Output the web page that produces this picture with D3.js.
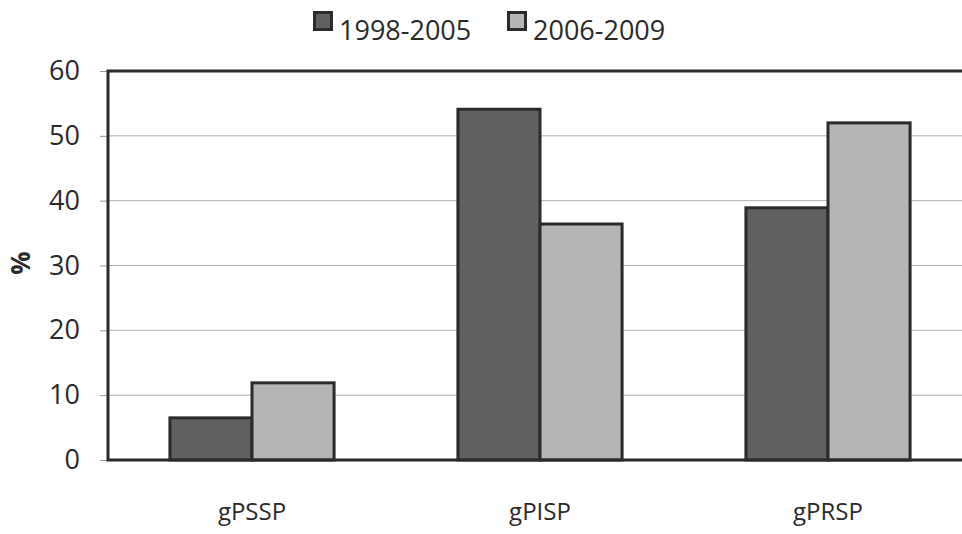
<!DOCTYPE html>
<html>
<head>
<meta charset="utf-8">
<script src="https://cdn.jsdelivr.net/npm/d3@7"></script>
<style>
  body { margin: 0; background: #fff; }
  svg { display: block; font-family: "Open Sans", sans-serif; }
</style>
</head>
<body>
<div id="chart"></div>
<script>
// chart data
var categories = ["gPSSP", "gPISP", "gPRSP"];
var seriesNames = ["1998-2005", "2006-2009"];
var early = [6.5, 54.1, 38.9];
var late = [11.9, 36.4, 52.0];
var yTicks = [0, 10, 20, 30, 40, 50, 60];

var svgWidth = 962;
var svgHeight = 534;
var colors = ["#606060", "#b5b5b5"];

var svg = d3.select("#chart")
    .append("svg")
    .attr("width", svgWidth)
    .attr("height", svgHeight);

// plot area runs off the right edge, like the reference crop
var plot = { left: 108, right: 972, top: 71, bottom: 460 };

var x0 = d3.scaleBand()
    .domain(categories)
    .range([plot.left, plot.right])
    .paddingInner(0.43)
    .paddingOuter(0.215);

var x1 = d3.scaleBand()
    .domain([0, 1])
    .range([0, x0.bandwidth()]);

var y = d3.scaleLinear()
    .domain([0, 60])
    .range([plot.bottom, plot.top]);

// gridlines
svg.append("g")
    .selectAll("line")
    .data(yTicks.filter(d => d > 0 && d < 60))
    .enter()
    .append("line")
    .attr("x1", plot.left)
    .attr("x2", plot.right)
    .attr("y1", d => y(d))
    .attr("y2", d => y(d))
    .attr("stroke", "#b0b0b0")
    .attr("stroke-width", 1);

// y axis with ticks
var yAxis = svg.append("g")
    .attr("transform", `translate(${plot.left},0)`)
    .call(d3.axisLeft(y).tickValues(yTicks).tickSize(8).tickPadding(20));
yAxis.select(".domain").remove();
yAxis.selectAll(".tick line").attr("stroke", "#999").attr("stroke-width", 1);
yAxis.selectAll(".tick text")
    .attr("font-family", "Open Sans")
    .attr("font-size", 27)
    .attr("fill", "#2a2a2a");

// bars
var data = categories.map((c, i) => ({ cat: c, values: [early[i], late[i]] }));

var groups = svg.append("g")
    .selectAll("g")
    .data(data)
    .enter()
    .append("g")
    .attr("transform", d => `translate(${x0(d.cat)},0)`);

groups.selectAll("rect")
    .data(d => d.values.map((v, k) => ({ k: k, v: v })))
    .enter()
    .append("rect")
    .attr("x", d => x1(d.k))
    .attr("y", d => y(d.v))
    .attr("width", x1.bandwidth())
    .attr("height", d => plot.bottom - y(d.v))
    .attr("fill", d => colors[d.k])
    .attr("stroke", "#2b2b2b")
    .attr("stroke-width", 3);

// frame: left, top, bottom
svg.append("path")
    .attr("d", `M${plot.right},${plot.top}H${plot.left}V${plot.bottom}H${plot.right}`)
    .attr("fill", "none")
    .attr("stroke", "#2b2b2b")
    .attr("stroke-width", 3);

// category labels
svg.append("g")
    .selectAll("text")
    .data(categories)
    .enter()
    .append("text")
    .attr("x", d => x0(d) + x0.bandwidth() / 2)
    .attr("y", 520)
    .attr("text-anchor", "middle")
    .attr("font-size", 24)
    .attr("fill", "#2a2a2a")
    .text(d => d);

// y label
svg.append("text")
    .attr("transform", "translate(30,263)rotate(-90)")
    .attr("text-anchor", "middle")
    .attr("font-size", 26)
    .attr("font-weight", "bold")
    .attr("fill", "#2a2a2a")
    .text("%");

// legend
var legendX = [313, 507];
var legend = svg.append("g")
    .selectAll("g")
    .data(seriesNames)
    .enter()
    .append("g")
    .attr("transform", (d, i) => `translate(${legendX[i]},11)`);

legend.append("rect")
    .attr("x", 1.5)
    .attr("y", 1.5)
    .attr("width", 17)
    .attr("height", 17)
    .attr("fill", (d, i) => colors[i])
    .attr("stroke", "#2b2b2b")
    .attr("stroke-width", 3);

legend.append("text")
    .attr("x", 26)
    .attr("y", 29)
    .attr("font-size", 27)
    .attr("fill", "#2a2a2a")
    .text(d => d);
</script>
</body>
</html>
